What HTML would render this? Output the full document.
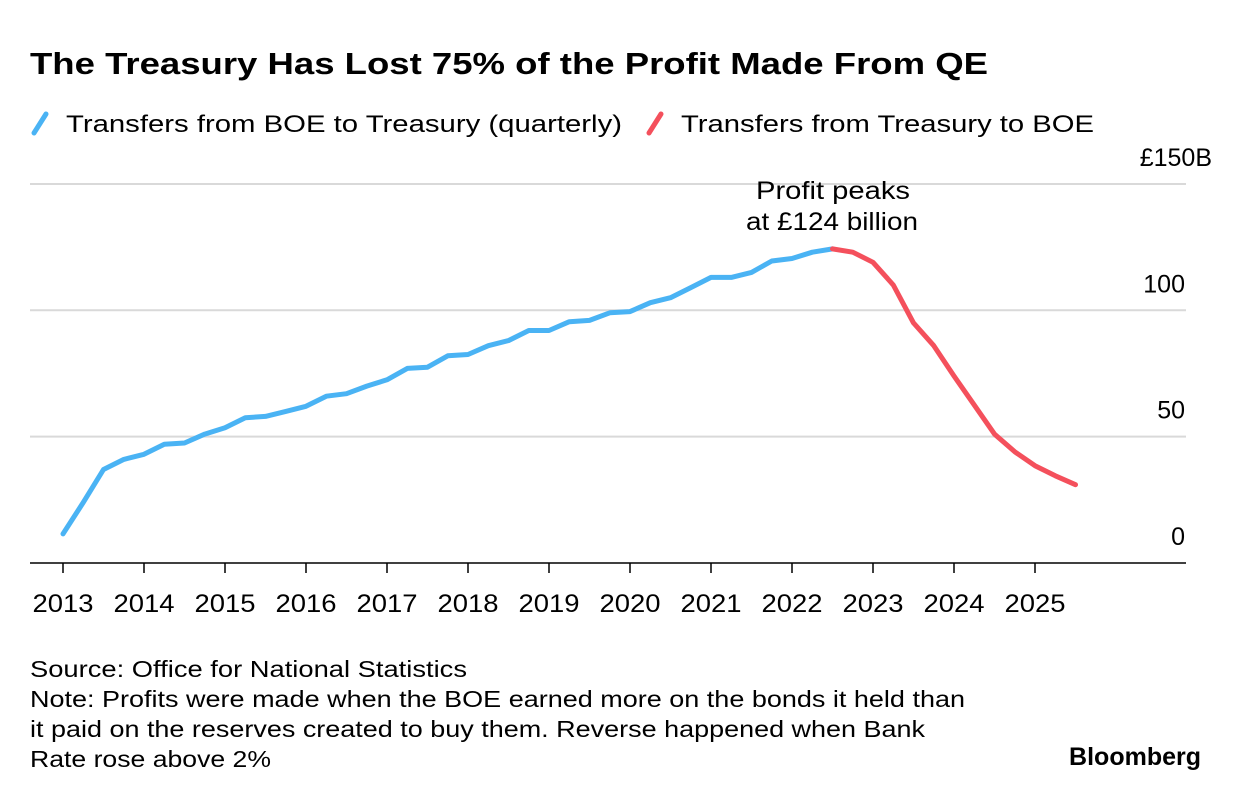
<!DOCTYPE html>
<html><head><meta charset="utf-8"><style>
html,body{margin:0;padding:0;background:#fff;}
svg{display:block;font-family:"Liberation Sans",Arial,sans-serif;}
</style></head><body>
<svg id="chart" width="1240" height="800" viewBox="0 0 1240 800">
<text x="30" y="74" font-size="31" font-weight="bold" fill="#000" textLength="958" lengthAdjust="spacingAndGlyphs">The Treasury Has Lost 75% of the Profit Made From QE</text>
<g>
<line x1="34" y1="133" x2="46" y2="114" stroke="#4ab3f4" stroke-width="5" stroke-linecap="round"/>
<text x="66" y="132" font-size="24" fill="#000" textLength="556" lengthAdjust="spacingAndGlyphs">Transfers from BOE to Treasury (quarterly)</text>
<line x1="649" y1="133" x2="661" y2="114" stroke="#f4505c" stroke-width="5" stroke-linecap="round"/>
<text x="681" y="132" font-size="24" fill="#000" textLength="413" lengthAdjust="spacingAndGlyphs">Transfers from Treasury to BOE</text>
</g>
<g id="grid"></g>
<g id="xaxis"></g>
<g id="lines"></g>
<g font-size="25" fill="#000" text-anchor="middle">
<text x="833" y="199" textLength="154" lengthAdjust="spacingAndGlyphs">Profit peaks</text>
<text x="832" y="230" textLength="172" lengthAdjust="spacingAndGlyphs">at £124 billion</text>
</g>
<g font-size="23" fill="#000">
<text x="30" y="677" textLength="437" lengthAdjust="spacingAndGlyphs">Source: Office for National Statistics</text>
<text x="30" y="707" textLength="935" lengthAdjust="spacingAndGlyphs">Note: Profits were made when the BOE earned more on the bonds it held than</text>
<text x="30" y="737" textLength="895" lengthAdjust="spacingAndGlyphs">it paid on the reserves created to buy them. Reverse happened when Bank</text>
<text x="30" y="767" textLength="241" lengthAdjust="spacingAndGlyphs">Rate rose above 2%</text>
</g>
<text x="1201" y="765" font-size="25" font-weight="bold" text-anchor="end" fill="#000">Bloomberg</text>
</svg>
<script>
const yTicks=[0,50,100,150];
const yTickLabels=["0","50","100","£150B"];
const xYears=[2013,2014,2015,2016,2017,2018,2019,2020,2021,2022,2023,2024,2025];
const boeToTreasury=[11.5,24,37,41,43,47,47.5,51,53.5,57.5,58,60,62,66,67,70,72.5,77,77.5,82,82.5,86,88,92,92,95.5,96,99,99.5,103,105,109,113,113,115,119.5,120.5,123,124.3];
const treasuryToBoe=[124.3,123,119,110,95,86,74,62.5,51,44,38.5,34.5,31];
const startYear=2013, redStartYear=2022.5;
const NS="http://www.w3.org/2000/svg";
const xS=t=>63+(t-2013)*81;
const yS=v=>563-v*2.527;
function mk(tag,attrs,parent){const e=document.createElementNS(NS,tag);for(const k in attrs)e.setAttribute(k,attrs[k]);parent.appendChild(e);return e;}
const grid=document.getElementById('grid');
yTicks.forEach((v,i)=>{
  if(v>0){const l=mk('line',{x1:30,x2:1186,y1:yS(v),y2:yS(v),stroke:'#d9d9d9','stroke-width':2},grid);
  
  }
  const t=mk('text',{x:(v===150?1212:1185),y:yS(v)-18,'font-size':25,'text-anchor':'end',fill:'#000'},grid);
  t.textContent=yTickLabels[i];
  
  
});
const xa=document.getElementById('xaxis');
const base=mk('line',{x1:30,x2:1186,y1:563,y2:563,stroke:'#000','stroke-width':1.5},xa);


xYears.forEach(y=>{
  const tk=mk('line',{x1:xS(y),x2:xS(y),y1:563,y2:573,stroke:'#000','stroke-width':1.5},xa);
  
  
  const t=mk('text',{x:xS(y),y:612,'font-size':25,'text-anchor':'middle',fill:'#000',textLength:61,lengthAdjust:'spacingAndGlyphs'},xa);
  t.textContent=String(y);
  
  
});
const lg=document.getElementById('lines');
function path(vals,t0){return vals.map((v,i)=>(i?'L':'M')+xS(t0+i*0.25).toFixed(1)+','+yS(v).toFixed(1)).join(' ');}
const b=mk('path',{d:path(boeToTreasury,startYear),fill:'none',stroke:'#4ab3f4','stroke-width':5,'stroke-linejoin':'round','stroke-linecap':'round'},lg);


const r=mk('path',{d:path(treasuryToBoe,redStartYear),fill:'none',stroke:'#f4505c','stroke-width':5,'stroke-linejoin':'round','stroke-linecap':'round'},lg);


</script>
</body></html>
